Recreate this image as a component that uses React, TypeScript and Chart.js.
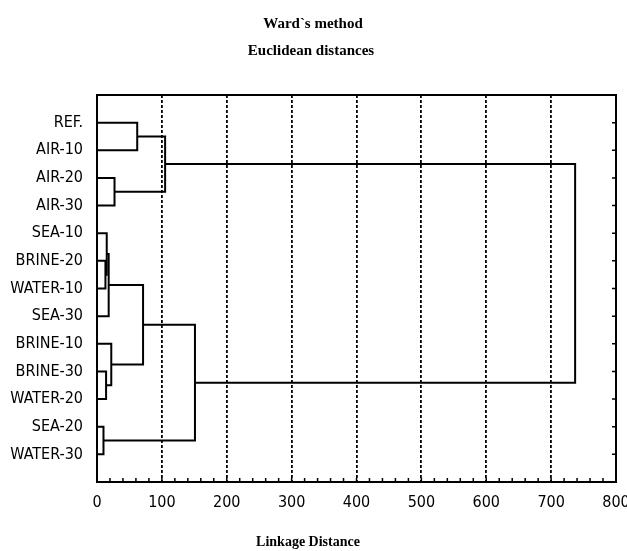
import React, { useEffect, useRef } from "react";
import { Chart, registerables } from "chart.js";

Chart.register(...registerables);

// ---- data ----
const leafLabels = [
  "REF.", "AIR-10", "AIR-20", "AIR-30", "SEA-10", "BRINE-20", "WATER-10",
  "SEA-30", "BRINE-10", "BRINE-30", "WATER-20", "SEA-20", "WATER-30",
];
// merge k creates cluster id leafLabels.length + k
const mergeLeft = [11, 5, 9, 4, 16, 8, 2, 0, 17, 20, 21, 22];
const mergeRight = [12, 6, 10, 14, 7, 15, 3, 1, 18, 19, 13, 23];
const mergeDistance = [10, 13, 14, 15, 18, 22, 27, 62, 71, 105, 151, 737];
const xTickValues = [0, 100, 200, 300, 400, 500, 600, 700, 800];
const titleLines = ["Ward`s method", "Euclidean distances"];
const xAxisTitle = "Linkage Distance";

const LABEL_FONT = "'Liberation Sans Narrow', 'DejaVu Sans Condensed', 'Arial Narrow', sans-serif";
const TITLE_FONT = "'Liberation Serif', 'DejaVu Serif', serif";

function buildDatasets() {
  const n = leafLabels.length;
  const pos: number[] = leafLabels.map((_, i) => i + 1);
  const height: number[] = leafLabels.map(() => 0);
  const sets: any[] = [];
  mergeDistance.forEach((d, k) => {
    const a = mergeLeft[k];
    const b = mergeRight[k];
    sets.push({
      data: [
        { x: height[a], y: pos[a] },
        { x: d, y: pos[a] },
        { x: d, y: pos[b] },
        { x: height[b], y: pos[b] },
      ],
      showLine: true,
      borderColor: "#000",
      borderWidth: 2,
      pointRadius: 0,
      tension: 0,
      clip: false,
    });
    pos[n + k] = (pos[a] + pos[b]) / 2;
    height[n + k] = d;
  });
  return sets;
}

const framePlugin = {
  id: "frame",
  afterDraw(chart: any) {
    const { ctx, chartArea } = chart;
    const { left, right, top, bottom } = chartArea;
    const xs = chart.scales.x;
    const ys = chart.scales.y;
    ctx.save();
    ctx.strokeStyle = "#000";
    ctx.lineWidth = 2;
    ctx.strokeRect(left, top, right - left, bottom - top);
    ctx.lineWidth = 1.5;
    ctx.beginPath();
    for (let v = 20; v < 800; v += 20) {
      const x = xs.getPixelForValue(v);
      ctx.moveTo(x, bottom);
      ctx.lineTo(x, bottom - 4);
    }
    leafLabels.forEach((_, i) => {
      const y = ys.getPixelForValue(i + 1);
      ctx.moveTo(right, y);
      ctx.lineTo(right - 4, y);
    });
    ctx.stroke();
    // titles
    ctx.fillStyle = "#000";
    ctx.textAlign = "center";
    ctx.textBaseline = "alphabetic";
    ctx.font = "bold 15px " + TITLE_FONT;
    ctx.fillText(titleLines[0], 313, 28);
    ctx.fillText(titleLines[1], 311, 55);
    ctx.font = "bold 14px " + TITLE_FONT;
    ctx.fillText(xAxisTitle, 308, 546);
    ctx.restore();
  },
};

export default function App() {
  const ref = useRef<HTMLCanvasElement>(null);
  useEffect(() => {
    document.body.style.margin = "0";
    const chart = new Chart(ref.current!, {
      type: "scatter",
      data: { datasets: buildDatasets() },
      options: {
        animation: false,
        responsive: false,
        layout: { padding: { top: 95, right: 11, left: 0, bottom: 0 } },
        plugins: { legend: { display: false }, tooltip: { enabled: false }, title: { display: false } },
        scales: {
          x: {
            type: "linear",
            min: 0,
            max: 800,
            afterBuildTicks: (s: any) => {
              s.ticks = xTickValues.map((v) => ({ value: v }));
            },
            afterFit: (s: any) => {
              s.height = 69;
              s.paddingLeft = 0;
              s.paddingRight = 0;
            },
            ticks: {
              color: "#000",
              padding: 11,
              maxRotation: 0,
              autoSkip: false,
              font: { family: LABEL_FONT, size: 16 },
            },
            grid: {
              drawTicks: false,
              lineWidth: 1.8,
              color: (c: any) =>
                c.tick && (c.tick.value === 0 || c.tick.value === 800) ? "rgba(0,0,0,0)" : "#000",
            },
            border: { display: false, dash: [3, 2] },
          },
          y: {
            type: "linear",
            min: 0,
            max: leafLabels.length + 1,
            reverse: true,
            afterBuildTicks: (s: any) => {
              s.ticks = leafLabels.map((_, i) => ({ value: i + 1 }));
            },
            afterFit: (s: any) => {
              s.width = 97;
              s.paddingTop = 0;
              s.paddingBottom = 0;
            },
            ticks: {
              color: "#000",
              padding: 14,
              autoSkip: false,
              font: { family: LABEL_FONT, size: 16 },
              callback: (v: any) => leafLabels[Number(v) - 1] ?? "",
            },
            grid: { display: false, drawTicks: false },
            border: { display: false },
          },
        },
      },
      plugins: [framePlugin],
    });
    return () => chart.destroy();
  }, []);
  return (
    <div style={{ position: "fixed", left: 0, top: 0, width: 627, height: 551, background: "#fff" }}>
      <canvas ref={ref} width={627} height={551} style={{ display: "block" }} />
    </div>
  );
}
